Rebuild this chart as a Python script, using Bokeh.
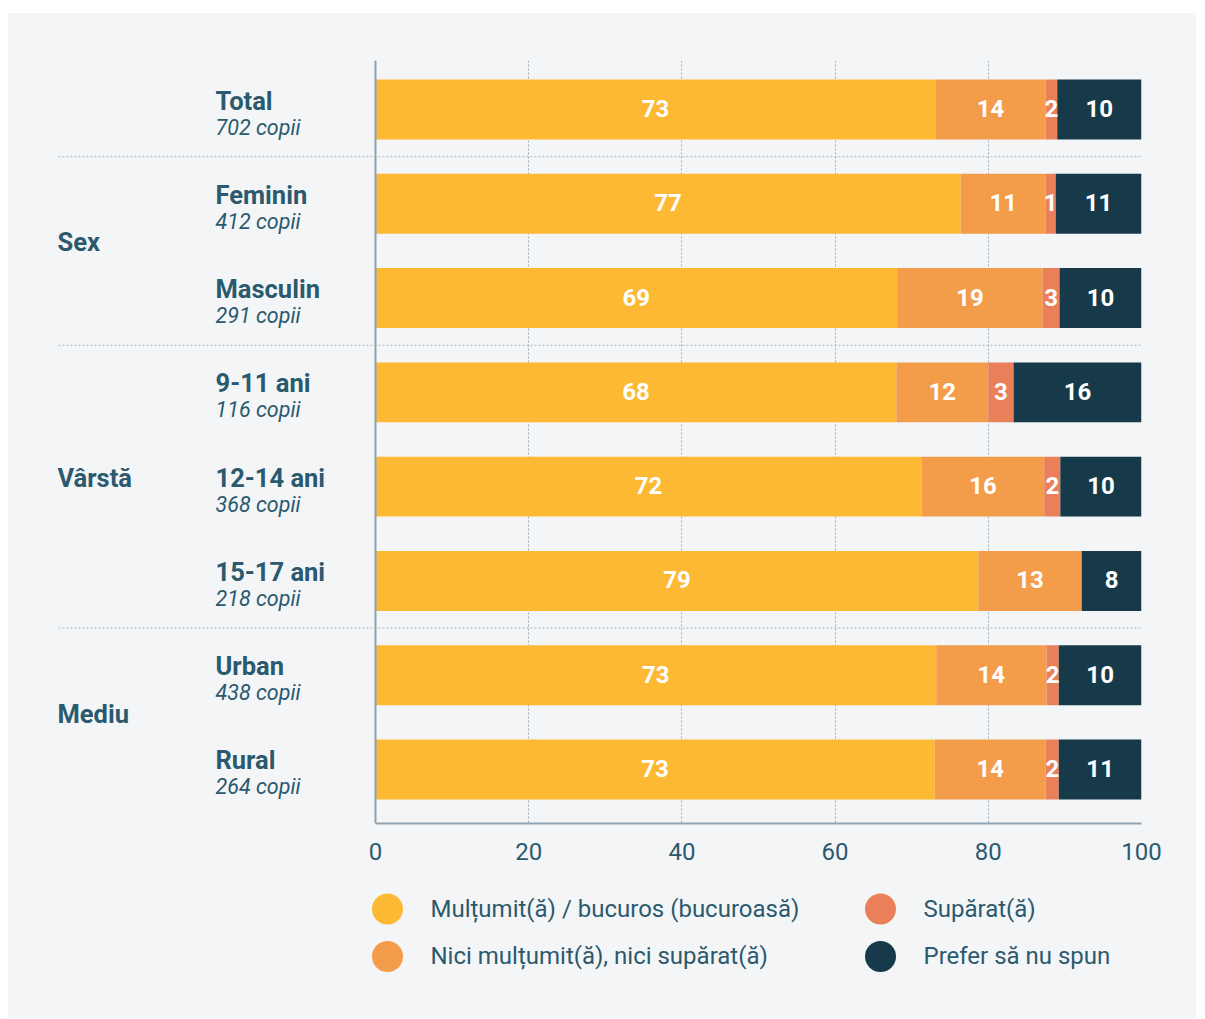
from bokeh.plotting import figure
from bokeh.models import ColumnDataSource, Range1d, FixedTicker, Span, Spacer
from bokeh.layouts import column, row
from bokeh.embed import file_html
from bokeh.resources import INLINE
from bokeh.core.properties import value

# ---------------- data ----------------
categories = ["Total", "Feminin", "Masculin", "9-11 ani", "12-14 ani", "15-17 ani", "Urban", "Rural"]
counts = ["702 copii", "412 copii", "291 copii", "116 copii", "368 copii", "218 copii", "438 copii", "264 copii"]
groups = ["Sex", "Vârstă", "Mediu"]
group_members = [[1, 2], [3, 4, 5], [6, 7]]

multumit = [73.1, 76.4, 68.1, 68.0, 71.3, 78.7, 73.2, 73.0]
nici = [14.4, 11.1, 19.0, 12.0, 16.0, 13.5, 14.4, 14.5]
suparat = [1.5, 1.3, 2.2, 3.3, 2.1, 0.0, 1.6, 1.7]
prefer = [11.0, 11.2, 10.7, 16.7, 10.6, 7.8, 10.8, 10.8]

multumit_lbl = ["73", "77", "69", "68", "72", "79", "73", "73"]
nici_lbl = ["14", "11", "19", "12", "16", "13", "14", "14"]
suparat_lbl = ["2", "1", "3", "3", "2", "", "2", "2"]
prefer_lbl = ["10", "11", "10", "16", "10", "8", "10", "11"]

series_names = ["Mulțumit(ă) / bucuros (bucuroasă)", "Nici mulțumit(ă), nici supărat(ă)",
                "Supărat(ă)", "Prefer să nu spun"]
colors = ["#fdb933", "#f39c4a", "#e9805a", "#163a4a"]
x_ticks = [0, 20, 40, 60, 80, 100]

# ---------------- style ----------------
BG = "#f4f5f7"
TXT = "#2b5a6e"
AXIS = "#8ea3b1"
GRID = "#9aafbd"
FONT = "Roboto"
W = 1188
H_MAIN = 867
H_LEG = 138
OFF_X = 8     # canvas left on page
OFF_Y = 13    # canvas top on page

# frame: page x 40 .. 1141 ; zero at page x 375
frame_left_px, zero_px, frame_right_px = 40, 375, 1141
ppu = (frame_right_px - zero_px) / 100.0
x_start = -(zero_px - frame_left_px) / ppu
xr = Range1d(x_start, 100)

p = figure(width=W, height=H_MAIN,
           x_range=xr, y_range=Range1d(7.573, -0.52),
           output_backend="svg", toolbar_location=None,
           y_axis_location=None,
           min_border_left=frame_left_px - OFF_X, min_border_right=OFF_X + W - frame_right_px,
           min_border_top=60 - OFF_Y, min_border_bottom=57,
           background_fill_alpha=0, border_fill_color=BG, outline_line_color=None)

# x axis
p.xaxis.ticker = FixedTicker(ticks=x_ticks)
p.xaxis.bounds = (0, 100)
p.xaxis.major_tick_line_color = None
p.xaxis.minor_tick_line_color = None
p.xaxis.major_tick_out = 0
p.xaxis.major_tick_in = 0
p.xaxis.major_label_standoff = 19
p.xaxis.axis_line_color = AXIS
p.xaxis.axis_line_width = 2
p.xaxis.major_label_text_font = FONT
p.xaxis.major_label_text_font_size = "24px"
p.xaxis.major_label_text_color = TXT

# grid
p.ygrid.visible = False
p.xgrid.ticker = FixedTicker(ticks=x_ticks)
p.xgrid.bounds = (0, 100)
p.xgrid.grid_line_color = GRID
p.xgrid.grid_line_dash = "2 2"
p.xgrid.grid_line_width = 1

# left axis line at 0
p.add_layout(Span(location=0, dimension="height", line_color=AXIS, line_width=2, level="overlay"))

# separators between groups
sep_y = [min(m) - 0.5 for m in group_members]
sep_left = -(zero_px - 58) / ppu
p.segment(x0=[sep_left] * len(sep_y), x1=[100] * len(sep_y), y0=sep_y, y1=sep_y,
          line_color="#a9b8c3", line_dash="2 2", line_width=1)

# stacked bars
ys = list(range(len(categories)))
src = ColumnDataSource(dict(y=ys, m=multumit, n=nici, s=suparat, pf=prefer))
p.hbar_stack(["m", "n", "s", "pf"], y="y", height=0.636, fill_color=colors,
             line_color=None, source=src)

# values in bars
series = [multumit, nici, suparat, prefer]
labels = [multumit_lbl, nici_lbl, suparat_lbl, prefer_lbl]
lx, ly, lt = [], [], []
for i in range(len(categories)):
    left = 0.0
    for s, l in zip(series, labels):
        if l[i]:
            lx.append(left + s[i] / 2.0)
            ly.append(i)
            lt.append(l[i])
        left += s[i]
p.text(x=lx, y=ly, text=lt, text_align="center", text_baseline="alphabetic",
       y_offset=-1, text_color="white", text_font=value(FONT),
       text_font_style="bold", text_font_size="24px")

# category labels
p.text(x=[0] * len(ys), y=ys, text=categories, x_offset=-160, y_offset=-9,
       text_align="left", text_baseline="alphabetic", text_color=TXT,
       text_font=value(FONT), text_font_style="bold", text_font_size="25.5px")
p.text(x=[0] * len(ys), y=ys, text=counts, x_offset=-160, y_offset=17.5,
       text_align="left", text_baseline="alphabetic", text_color=TXT,
       text_font=value(FONT), text_font_style="italic", text_font_size="21.5px")

# group labels
gy = [sum(m) / len(m) for m in group_members]
p.text(x=[0] * len(gy), y=gy, text=groups, x_offset=-318, y_offset=-8.5,
       text_align="left", text_baseline="alphabetic", text_color=TXT,
       text_font=value(FONT), text_font_style="bold", text_font_size="25.5px")

# ---------------- legend figure (frame aligned with main) ----------------
p2 = figure(width=W, height=H_LEG, x_range=xr, y_range=Range1d(H_LEG, 0),
            output_backend="svg", toolbar_location=None,
            x_axis_location=None, y_axis_location=None,
            min_border_left=frame_left_px - OFF_X, min_border_right=OFF_X + W - frame_right_px,
            min_border_top=0, min_border_bottom=0,
            background_fill_alpha=0, border_fill_color=BG, outline_line_color=None)
p2.xgrid.visible = False
p2.ygrid.visible = False

leg_top = OFF_Y + H_MAIN
col_x = [(387 - zero_px) / ppu, (880 - zero_px) / ppu]
row_y = [908.5 - leg_top, 956 - leg_top]
leg_x = [col_x[k // 2] for k in range(4)]
leg_y = [row_y[k % 2] for k in range(4)]
p2.scatter(x=leg_x, y=leg_y, size=31, marker="circle",
           fill_color=colors, line_color=None)
p2.text(x=leg_x, y=leg_y, text=series_names, x_offset=43, y_offset=-0.5,
        text_align="left", text_baseline="alphabetic", text_color=TXT,
        text_font=value(FONT), text_font_size="24px")

panel = column(p, p2, spacing=0, styles={"background-color": BG})
layout = column(Spacer(width=W, height=OFF_Y),
                row(Spacer(width=OFF_X, height=H_MAIN + H_LEG), panel, spacing=0),
                spacing=0)
open("out.html", "w").write(file_html(layout, INLINE))
